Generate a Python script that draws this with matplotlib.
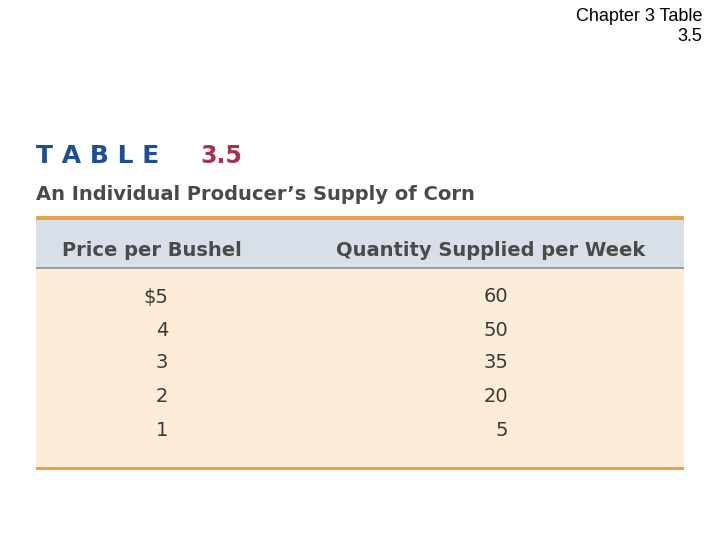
import matplotlib.pyplot as plt
from matplotlib.patches import Rectangle

prices = ["$5", "4", "3", "2", "1"]
quantities = ["60", "50", "35", "20", "5"]
headers = ["Price per Bushel", "Quantity Supplied per Week"]

fig = plt.figure(figsize=(7.2, 5.4), dpi=100)
W, H = 720, 540
def fx(x): return x / W
def fy(y): return 1 - y / H

def rect(x0, y0, x1, y1, color):
    fig.patches.append(Rectangle((fx(x0), fy(y1)), fx(x1) - fx(x0), fy(y0) - fy(y1),
                                 transform=fig.transFigure, color=color, lw=0))

fig.text(fx(702), fy(8), "Chapter 3 Table\n3.5", ha="right", va="top",
         fontsize=13, family="Liberation Sans", linespacing=1.25)

fig.text(fx(36), fy(156), "T A B L E", ha="left", va="center", fontsize=18,
         fontweight="bold", color="#1f4f8f", family="DejaVu Sans")
fig.text(fx(200), fy(156), "3.5", ha="left", va="center", fontsize=17,
         fontweight="bold", color="#a3344f", family="DejaVu Sans")
fig.text(fx(36), fy(195), "An Individual Producer\u2019s Supply of Corn", ha="left",
         va="center", fontsize=14, fontweight="bold", color="#4a4a4a", family="DejaVu Sans")

rect(36, 216, 684, 220, "#e8a04a")
rect(36, 220, 684, 267, "#d9dfe9")
rect(36, 267, 684, 269, "#9a9fa8")
rect(36, 269, 684, 467, "#fdecd7")
rect(36, 467, 684, 470, "#e8a04a")

fig.text(fx(62), fy(250), headers[0], ha="left", va="center", fontsize=14,
         fontweight="bold", color="#4a4a4a")
fig.text(fx(336), fy(250), headers[1], ha="left", va="center", fontsize=14,
         fontweight="bold", color="#4a4a4a")

ys = [297, 330, 363, 396, 430]
for p, q, y in zip(prices, quantities, ys):
    fig.text(fx(168), fy(y), p, ha="right", va="center", fontsize=14, color="#3a3a3a")
    fig.text(fx(508), fy(y), q, ha="right", va="center", fontsize=14, color="#3a3a3a")

fig.savefig("out.png", dpi=100)
